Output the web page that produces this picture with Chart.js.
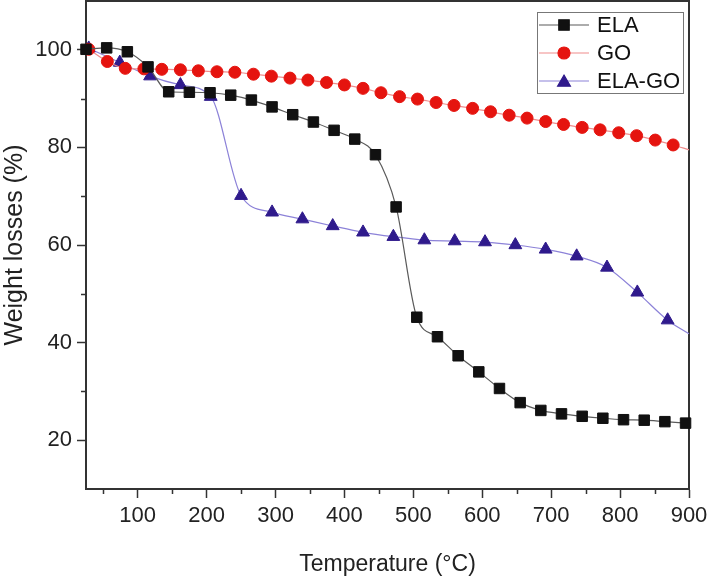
<!DOCTYPE html>
<html>
<head>
<meta charset="utf-8">
<script src="https://cdn.jsdelivr.net/npm/chart.js@4.4.0/dist/chart.umd.min.js"></script>
<style>
  html, body { margin: 0; padding: 0; background: #fff; }
  canvas { display: block; }
</style>
</head>
<body>
<canvas id="tga" width="709" height="578"></canvas>
<script>
// values
const elaTemp = [25, 55, 85, 115, 145, 175, 205, 235, 265, 295, 325, 355, 385, 415, 445,
                 475, 505, 535, 565, 595, 625, 655, 685, 715, 745, 775, 805, 835, 865, 895];
const elaLoss = [100.1, 100.4, 99.6, 96.5, 91.4, 91.3, 91.2, 90.7, 89.7, 88.3, 86.7, 85.2, 83.5, 81.7, 78.5,
                 67.8, 45.2, 41.2, 37.3, 34.0, 30.6, 27.7, 26.1, 25.4, 24.9, 24.5, 24.2, 24.1, 23.8, 23.5];

const goTemp = [29, 56, 82, 109, 135, 162, 188, 215, 241, 268, 294, 321, 347, 374, 400, 427, 453,
                480, 506, 533, 559, 586, 612, 639, 665, 692, 718, 745, 771, 798, 824, 851, 877, 900];
const goLoss = [100.1, 97.6, 96.2, 96.1, 96.0, 95.9, 95.7, 95.5, 95.4, 95.0, 94.6, 94.2, 93.8, 93.3, 92.8, 92.1, 91.2,
                90.4, 89.9, 89.2, 88.6, 88.0, 87.3, 86.6, 86.0, 85.3, 84.7, 84.1, 83.6, 83.0, 82.4, 81.5, 80.5, 79.5];

const elaGoTemp = [29, 74, 118, 162, 206, 250, 295, 339, 383, 427, 471, 516, 560, 604, 648, 692, 737,
                   781, 825, 869, 900];
const elaGoLoss = [100.3, 97.4, 94.6, 92.8, 90.4, 70.1, 66.7, 65.3, 63.9, 62.6, 61.7, 61.0, 60.8, 60.6, 60.0, 59.1, 57.7,
                   55.4, 50.3, 44.6, 41.8];

const xMajor = [100, 200, 300, 400, 500, 600, 700, 800, 900];
const xMinor = [50, 150, 250, 350, 450, 550, 650, 750, 850];
const yMajor = [20, 40, 60, 80, 100];
const yMinor = [30, 50, 70, 90];

const FONT = "'Liberation Sans', Arial, sans-serif";
const AXIS = '#333';

function pts(xs, ys) {
    return xs.map(function(x, i) { return { x: x, y: ys[i] }; });
}

// the 900 °C end points of GO and ELA-GO only carry the line, no marker
function radiusNoEnd(r) {
    return function(ctx) {
        return ctx.raw && ctx.raw.x === 900 ? 0 : r;
    };
}

const series = [
    { label: 'ELA', data: pts(elaTemp, elaLoss), lineColor: '#5a5a5a', markColor: '#111111',
      style: 'rect', radius: 7.4 },
    { label: 'GO', data: pts(goTemp, goLoss), lineColor: '#f08c8c', markColor: '#e5140f',
      style: 'circle', radius: 6 },
    { label: 'ELA-GO', data: pts(elaGoTemp, elaGoLoss), lineColor: '#8c82d8', markColor: '#2f1a8c',
      style: 'triangle', radius: 7.4 }
];

const frameAndTicks = {
    id: 'frameAndTicks',
    beforeDatasetsDraw(chart) {
        const ctx = chart.ctx;
        const a = chart.chartArea;
        const xs = chart.scales.x, ys = chart.scales.y;
        ctx.save();
        ctx.strokeStyle = AXIS;
        ctx.lineWidth = 2;
        ctx.beginPath();
        ctx.moveTo(a.left, a.top);
        ctx.lineTo(a.right, a.top);
        ctx.lineTo(a.right, a.bottom);
        ctx.stroke();
        ctx.lineWidth = 1.5;
        ctx.beginPath();
        xMinor.forEach(function(v) {
            const px = Math.round(xs.getPixelForValue(v)) + 0.5;
            ctx.moveTo(px, a.bottom);
            ctx.lineTo(px, a.bottom + 5);
        });
        yMinor.forEach(function(v) {
            const py = Math.round(ys.getPixelForValue(v)) + 0.5;
            ctx.moveTo(a.left, py);
            ctx.lineTo(a.left - 5, py);
        });
        ctx.stroke();
        ctx.restore();
    }
};

const boxLegend = {
    id: 'boxLegend',
    afterDraw(chart) {
        const ctx = chart.ctx;
        const left = 537, top = 12, w = 146, h = 81;
        ctx.save();
        ctx.fillStyle = '#fff';
        ctx.fillRect(left, top, w, h);
        ctx.strokeStyle = '#777';
        ctx.lineWidth = 1;
        ctx.strokeRect(left + 0.5, top + 0.5, w, h);
        series.forEach(function(s, i) {
            const y = 25 + i * 28;
            ctx.strokeStyle = s.lineColor;
            ctx.lineWidth = 1.2;
            ctx.beginPath();
            ctx.moveTo(539, y);
            ctx.lineTo(589, y);
            ctx.stroke();
            ctx.fillStyle = s.markColor;
            ctx.strokeStyle = s.markColor;
            Chart.helpers.drawPoint(ctx, { pointStyle: s.style, radius: s.radius, rotation: 0, borderWidth: 1 },
                564, s.style === 'triangle' ? y + 1.5 : y);
            ctx.fillStyle = '#111';
            ctx.font = '22px ' + FONT;
            ctx.textBaseline = 'middle';
            ctx.fillText(s.label, 597, y + 1);
        });
        ctx.restore();
    }
};

new Chart(document.getElementById('tga'), {
    type: 'line',
    data: {
        datasets: series.map(function(s) {
            return {
                label: s.label,
                data: s.data,
                borderColor: s.lineColor,
                borderWidth: 1.2,
                backgroundColor: s.markColor,
                pointStyle: s.style,
                pointRadius: radiusNoEnd(s.radius),
                pointBackgroundColor: s.markColor,
                pointBorderColor: s.markColor,
                pointBorderWidth: 1,
                cubicInterpolationMode: 'monotone',
                fill: false,
                clip: false
            };
        })
    },
    options: {
        responsive: false,
        animation: false,
        layout: { autoPadding: false, padding: { top: 1, right: 20, left: 0, bottom: 0 } },
        plugins: {
            legend: { display: false },
            tooltip: { enabled: false }
        },
        scales: {
            x: {
                type: 'linear',
                min: 25,
                max: 900,
                afterBuildTicks: function(scale) {
                    scale.ticks = xMajor.map(function(v) { return { value: v }; });
                },
                afterFit: function(scale) {
                    scale.height = 89;
                    scale.paddingLeft = 0;
                    scale.paddingRight = 0;
                },
                grid: { drawOnChartArea: false, tickLength: 9, tickColor: AXIS, tickWidth: 1.5 },
                border: { color: AXIS, width: 2 },
                ticks: { color: '#222', font: { family: FONT, size: 22 }, padding: 5, maxRotation: 0 },
                title: {
                    display: true,
                    text: 'Temperature (°C)',
                    color: '#222',
                    font: { family: FONT, size: 23 },
                    padding: { top: 10, bottom: 0 }
                }
            },
            y: {
                min: 10,
                max: 110,
                afterBuildTicks: function(scale) {
                    scale.ticks = yMajor.map(function(v) { return { value: v }; });
                },
                afterFit: function(scale) {
                    scale.width = 86;
                    scale.paddingTop = 0;
                    scale.paddingBottom = 0;
                },
                grid: { drawOnChartArea: false, tickLength: 9, tickColor: AXIS, tickWidth: 1.5 },
                border: { color: AXIS, width: 2 },
                ticks: { color: '#222', font: { family: FONT, size: 22 }, padding: 5 },
                title: {
                    display: true,
                    text: 'Weight losses (%)',
                    color: '#222',
                    font: { family: FONT, size: 25 },
                    padding: { top: 0, bottom: 0 }
                }
            }
        }
    },
    plugins: [frameAndTicks, boxLegend]
});
</script>
</body>
</html>
